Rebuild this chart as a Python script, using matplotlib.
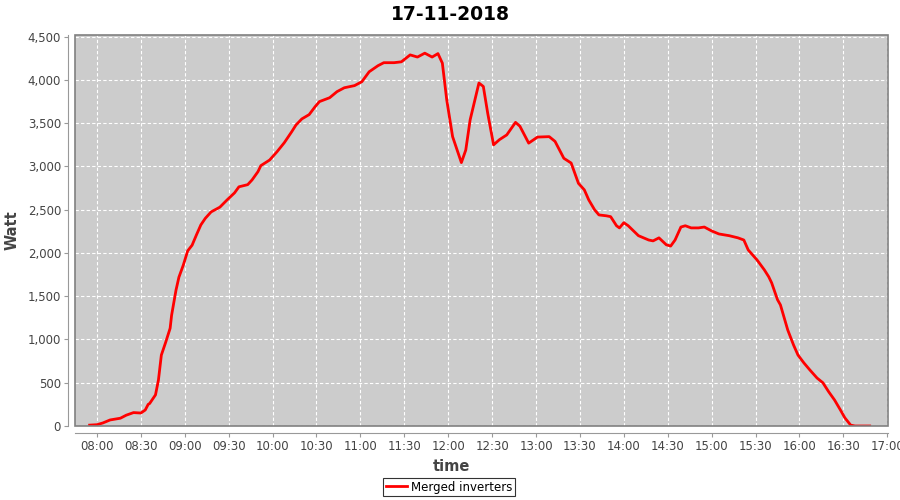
import matplotlib.pyplot as plt
import matplotlib.dates as mdates
from matplotlib.patches import Rectangle
from matplotlib.ticker import FuncFormatter
import pandas as pd

# Data
times = ["07:55", "08:00", "08:04", "08:09", "08:16", "08:20", "08:25", "08:30", "08:33",
         "08:35", "08:36", "08:40", "08:42", "08:44", "08:47", "08:50", "08:51", "08:54",
         "08:56", "08:59", "09:02", "09:05", "09:08", "09:11", "09:14", "09:18", "09:24",
         "09:29", "09:34", "09:37", "09:43", "09:46", "09:50", "09:52", "09:58", "10:03",
         "10:08", "10:13", "10:16", "10:20", "10:25", "10:29", "10:32", "10:39", "10:44",
         "10:49", "10:56", "11:01", "11:06", "11:12", "11:16", "11:23", "11:28", "11:34",
         "11:39", "11:44", "11:49", "11:53", "11:56", "11:59", "12:03", "12:09", "12:12",
         "12:15", "12:21", "12:24", "12:27", "12:31", "12:35", "12:40", "12:46", "12:49",
         "12:55", "13:01", "13:09", "13:13", "13:19", "13:24", "13:29", "13:33", "13:36",
         "13:40", "13:43", "13:48", "13:51", "13:55", "13:57", "14:00", "14:03", "14:10",
         "14:17", "14:20", "14:24", "14:29", "14:32", "14:35", "14:39", "14:42", "14:46",
         "14:51", "14:55", "15:00", "15:05", "15:12", "15:18", "15:22", "15:25", "15:31",
         "15:36", "15:39", "15:41", "15:45", "15:47", "15:50", "15:52", "15:56", "15:59",
         "16:03", "16:07", "16:12", "16:16", "16:20", "16:24", "16:28", "16:31", "16:35",
         "16:38", "16:48"]
watts = [10, 15, 35, 70, 90, 125, 155, 150, 185,
         250, 260, 360, 530, 820, 970, 1130, 1280, 1570,
         1720, 1860, 2025, 2090, 2210, 2325, 2400, 2475, 2530,
         2615, 2695, 2765, 2790, 2845, 2940, 3010, 3075, 3170,
         3275, 3400, 3480, 3550, 3600, 3690, 3750, 3795, 3865,
         3910, 3935, 3980, 4095, 4165, 4200, 4200, 4210, 4290,
         4265, 4310, 4265, 4305, 4195, 3770, 3345, 3045, 3190,
         3540, 3965, 3925, 3615, 3250, 3310, 3365, 3510, 3465,
         3270, 3340, 3345, 3290, 3095, 3040, 2805, 2730, 2615,
         2500, 2440, 2430, 2420, 2315, 2290, 2350, 2315, 2200,
         2150, 2140, 2175, 2095, 2080, 2150, 2300, 2315, 2290,
         2290, 2300, 2255, 2220, 2200, 2175, 2150, 2035, 1920,
         1805, 1725, 1655, 1460, 1400, 1225, 1110, 935, 820,
         730, 650, 555, 500, 395, 300, 185, 95, 10,
         0, 0]

t = pd.to_datetime(["2018-11-17 " + s for s in times])

fig = plt.figure(figsize=(9, 5), dpi=100)
ax = fig.add_axes([75 / 900, 74 / 500, 813 / 900, 391 / 500])
ax.set_facecolor("#cccccc")

ax.plot(t, watts, color="#ff0000", linewidth=2, label="Merged inverters")

ax.set_xlim(pd.Timestamp("2018-11-17 07:45"), pd.Timestamp("2018-11-17 17:00:30"))
ax.set_ylim(0, 4520)
ax.set_yticks(range(0, 4501, 500))
ax.yaxis.set_major_formatter(FuncFormatter(lambda v, p: f"{int(v):,}"))
ax.xaxis.set_major_locator(mdates.MinuteLocator(byminute=[0, 30]))
ax.xaxis.set_major_formatter(mdates.DateFormatter("%H:%M"))

ax.grid(True, color="white", linestyle=(0, (3, 2)), linewidth=0.8)
ax.set_axisbelow(True)

# plot outline plus offset axis lines
ax.add_patch(Rectangle((0, 0), 1, 1, transform=ax.transAxes, fill=False,
                       edgecolor="#808080", linewidth=1.2, clip_on=False, zorder=5))
for side in ["top", "right"]:
    ax.spines[side].set_visible(False)
for side in ["left", "bottom"]:
    ax.spines[side].set_position(("outward", 5))
    ax.spines[side].set_color("#999999")
ax.tick_params(colors="#999999", labelcolor="#444444", labelsize=8.5, length=3, pad=2)

fig.suptitle("17-11-2018", x=0.5, y=1 - 14 / 500, va="center",
             fontsize=13.5, fontweight="bold")
ax.set_xlabel("time", fontsize=10.5, fontweight="bold", color="#444444")
ax.set_ylabel("Watt", fontsize=10.5, fontweight="bold", color="#444444")
ax.xaxis.set_label_coords(0.5 - 30 / 813, -33 / 391)
ax.yaxis.set_label_coords(-55 / 813, 0.5)

leg = fig.legend(loc="center", bbox_to_anchor=(449 / 900, 1 - 487 / 500), fontsize=8.5,
                 frameon=True, fancybox=False, handlelength=1.8, borderpad=0.25,
                 handletextpad=0.3, borderaxespad=0)
leg.get_frame().set_edgecolor("black")
leg.get_frame().set_linewidth(0.8)

fig.savefig("out.png", dpi=100)
